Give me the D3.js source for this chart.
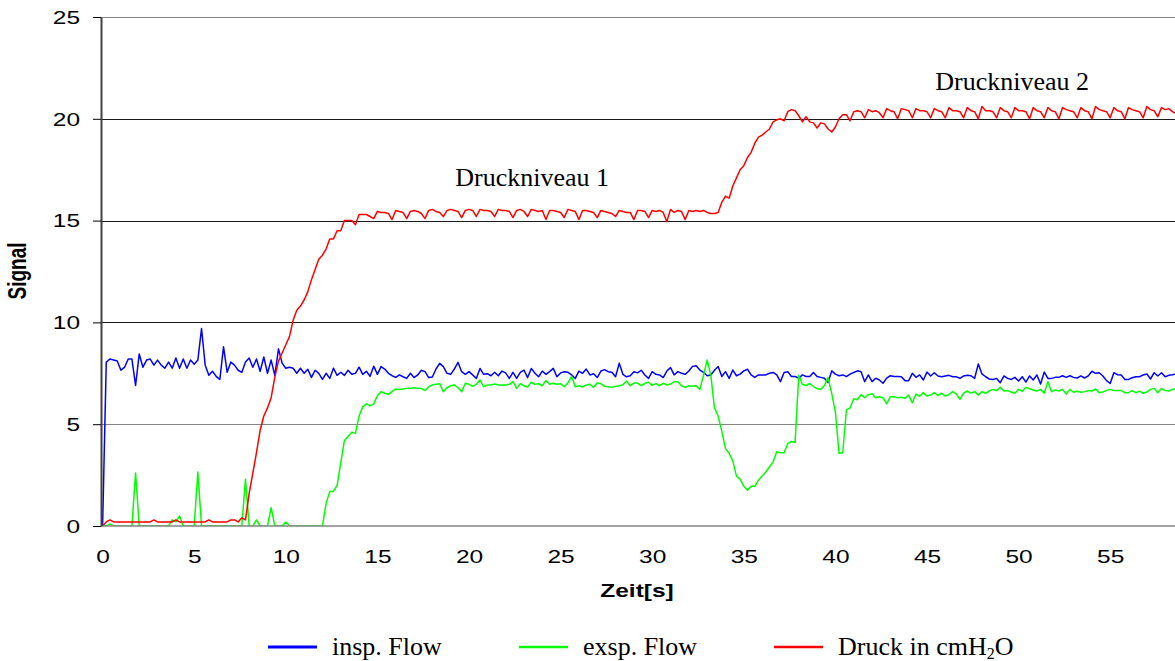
<!DOCTYPE html>
<html>
<head>
<meta charset="utf-8">
<script src="https://cdn.jsdelivr.net/npm/d3@7"></script>
<style>
  body { margin: 0; background: #fff; }
  svg { display: block; }
</style>
</head>
<body>
<svg class="chart" width="1175" height="661"></svg>
<script>
// sample step of the recording, seconds
var dt = 0.2

var xTicks = [0, 5, 10, 15, 20, 25, 30, 35, 40, 45, 50, 55]
var yTicks = [0, 5, 10, 15, 20, 25]

// insp. Flow (blue)
var inspFlow = [
  0,8.05,8.2,8.15,8.1,7.65,7.8,8.2,8.2,6.9,
  8.45,7.8,8.15,8.2,7.9,8.15,7.9,7.75,8.05,7.75,
  8.25,7.75,8.2,7.75,8.15,7.95,8.15,9.7,7.9,7.4,
  7.6,7.35,7.2,8.8,7.55,8.05,7.9,7.65,7.55,8.05,
  8.25,7.8,8.2,7.6,8.3,7.5,8.15,7.4,8.7,8.0,
  7.75,7.8,7.75,7.5,7.75,7.5,7.7,7.3,7.65,7.5,
  7.2,7.5,7.25,7.75,7.4,7.55,7.4,7.65,7.45,7.5,
  7.8,7.45,7.6,7.35,7.85,7.45,
  7.83,7.71,7.5,7.38,7.3,7.42,7.33,7.25,7.5,7.29,
  7.42,7.65,7.58,7.29,7.32,7.71,7.99,7.83,7.5,7.45,
  7.71,8.04,7.58,7.45,7.58,7.42,7.25,7.74,7.45,7.48,
  7.38,7.55,7.38,7.61,7.52,7.25,7.55,7.25,7.55,7.66,
  7.29,7.74,7.5,7.33,7.61,7.45,7.58,7.74,7.33,7.52,
  7.58,7.55,7.42,7.25,7.61,7.5,7.71,7.42,7.48,7.29,
  7.61,7.68,7.58,7.55,7.33,7.99,7.45,7.33,7.38,7.58,
  7.52,7.65,7.42,7.25,7.58,7.45,7.42,7.29,7.61,7.78,
  7.42,7.58,7.5,7.45,7.61,7.84,7.87,7.66,7.55,7.38,
  7.42,7.65,7.83,
  7.34,7.58,7.25,7.66,7.38,7.46,7.62,7.7,7.42,7.3,
  7.42,7.42,7.42,7.5,7.54,7.42,7.09,7.54,7.58,7.34,
  7.34,7.26,7.42,7.34,7.34,7.54,7.34,7.3,7.26,7.05,
  7.62,7.46,7.38,7.42,7.34,7.46,7.54,7.62,7.58,7.09,
  7.42,7.09,7.26,7.17,7.01,7.26,7.38,7.34,7.34,
  7.33,7.14,7.14,7.5,7.3,7.42,7.17,7.56,7.37,7.53,
  7.37,7.33,7.37,7.4,7.33,7.33,7.25,7.37,7.4,7.38,
  7.25,7.96,7.47,7.33,7.22,7.2,7.25,7.04,7.37,7.25,
  7.2,7.3,7.12,7.33,7.07,7.37,7.17,7.42,6.97,7.56,
  7.25,7.25,7.3,7.3,7.38,7.3,7.38,7.3,7.27,7.37,
  7.27,7.37,7.6,7.5,7.53,7.37,7.14,7.0,7.53,7.43,
  7.42,7.2,7.2,7.28,7.33,7.33,7.42,7.47,7.22,7.53,
  7.37,7.53,7.33,7.4,7.43,7.47
]

// exsp. Flow (green)
var exspFlow = [
  0,0,0.1,0,0,0,0,0,0,2.6,
  0,0,0,0,0,0,0,0,0,0.3,
  0.2,0.5,0,0,0,0,2.65,0,0,0,
  0,0,0,0,0,0,0,0,0,2.3,
  0,0,0.3,0,0,0,0.9,0,0,0,
  0.2,0,0,0,0,0,0,0,0,0,
  0,1.1,1.7,1.7,2.0,3.1,4.2,4.4,4.6,4.55,
  5.4,5.85,6.0,5.9,6.0,6.4,
  6.6,6.52,6.47,6.6,6.73,6.7,6.73,6.76,6.76,6.79,
  6.76,6.76,6.65,6.84,6.93,6.96,6.99,6.6,6.79,6.89,
  6.93,6.79,6.6,7.01,6.96,6.86,6.96,7.17,6.84,6.93,
  6.93,6.97,6.93,6.93,6.93,6.96,7.09,6.76,6.99,6.89,
  6.83,7.06,6.96,6.99,6.89,7.15,6.96,7.01,6.96,6.99,
  6.84,7.02,7.35,6.84,6.89,6.83,6.93,6.96,6.81,7.02,
  6.99,6.86,6.84,6.81,6.86,6.89,6.94,7.12,6.89,7.02,
  7.02,6.89,7.01,7.06,6.91,6.99,6.89,7.01,6.93,6.97,
  7.09,7.09,6.89,6.81,6.89,6.86,6.89,
  6.7,7.4,8.15,7.4,5.8,5.4,
  4.65,3.8,3.57,3.2,2.45,2.3,1.95,1.75,1.95,1.95,
  2.25,2.45,2.65,2.9,3.15,3.65,3.6,3.6,4.05,4.15,
  4.1,7.4,6.95,6.9,7.0,6.85,6.75,6.7,6.9,7.3,
  6.5,5.6,3.57,3.6,5.7,5.8,6.25,6.2,6.45,6.3,
  6.45,6.5,6.3,6.35,6.3,6.0,6.35,6.35,6.3,
  6.32,6.27,6.43,6.05,6.48,6.37,6.55,6.38,6.43,6.55,
  6.41,6.52,6.38,6.46,6.6,6.48,6.22,6.52,6.63,6.53,
  6.6,6.43,6.6,6.52,6.63,6.71,6.65,6.81,6.63,6.65,
  6.58,6.52,6.71,6.62,6.81,6.74,6.68,6.63,6.71,6.52,
  7.09,6.6,6.68,6.63,6.71,6.48,6.71,6.57,6.62,6.57,
  6.6,6.65,6.63,6.73,6.55,6.58,6.66,6.71,6.65,6.65,
  6.65,6.55,6.55,6.65,6.55,6.62,6.52,6.58,6.71,6.76,
  6.55,6.76,6.65,6.63,6.71,6.76
]

// Druck in cmH2O (red)
var druck = [
  0,0.2,0.3,0.2,0.2,0.2,0.2,0.2,0.2,0.2,
  0.2,0.2,0.2,0.2,0.3,0.2,0.2,0.2,0.2,0.2,
  0.3,0.2,0.2,0.2,0.2,0.2,0.2,0.2,0.2,0.3,
  0.2,0.2,0.2,0.2,0.2,0.3,0.3,0.2,0.4,0.3,
  1.6,2.6,3.6,4.7,5.4,5.8,6.3,7.3,8.1,8.5,
  8.9,9.3,10.1,10.6,10.8,11.1,11.5,12.1,12.6,13.1,
  13.3,13.6,14.1,14.1,14.5,14.5,15.0,15.0,15.0,14.8,
  15.3,15.3,15.3,15.2,15.1,15.45,15.4,15.4,15.35,15.05,
  15.5,15.45,15.4,15.1,15.45,15.5,15.45,15.35,15.1,15.5,
  15.55,15.45,15.4,15.2,15.5,15.55,15.5,15.45,15.15,15.5,
  15.55,15.5,15.2,15.55,15.5,15.5,15.45,15.2,15.55,15.5,
  15.5,15.45,15.15,15.5,15.55,15.45,15.2,15.55,15.5,15.45,
  15.5,15.05,15.5,15.5,15.45,15.4,15.15,15.55,15.5,15.45,
  15.05,15.5,15.5,15.45,15.4,15.15,15.5,15.45,15.4,15.35,
  15.2,15.5,15.45,15.4,15.4,15.05,15.5,15.5,15.45,15.15,
  15.5,15.45,15.5,15.4,14.95,15.55,15.4,15.5,15.45,15.05,
  15.5,15.45,15.5,15.45,15.5,15.4,15.35,15.35,15.4,15.9,
  16.2,16.1,16.7,17.1,17.5,17.7,18.1,18.35,18.8,19.1,
  19.2,19.35,19.5,19.85,19.95,20.0,19.9,20.35,20.45,20.4,
  20.15,19.85,20.1,19.85,19.8,19.55,19.8,19.75,19.5,19.35,
  19.6,20.0,20.2,20.2,19.9,20.35,20.4,20.35,20.05,20.45,
  20.35,20.4,20.3,20.05,20.5,20.4,20.35,20.0,20.5,20.45,
  20.4,20.05,20.5,20.4,20.4,20.35,20.05,20.5,20.4,20.35,
  20.05,20.55,20.4,20.4,20.35,20.05,20.55,20.4,20.35,20.0,
  20.6,20.4,20.4,20.35,20.05,20.55,20.4,20.35,20.05,20.55,
  20.4,20.4,20.35,20.0,20.55,20.4,20.35,20.05,20.55,20.4,
  20.35,20.0,20.55,20.45,20.4,20.35,20.05,20.55,20.4,20.35,
  20.0,20.6,20.45,20.4,20.35,20.05,20.55,20.4,20.35,20.0,
  20.55,20.45,20.4,20.35,20.05,20.6,20.45,20.4,20.1,20.55,
  20.45,20.5,20.35,20.25
]

var series = [
  { name: "insp. Flow", values: inspFlow, color: "#0000ff" },
  { name: "exsp. Flow", values: exspFlow, color: "#00ff00" },
  { name: "Druck in cmH", values: druck, color: "#ff0000" }
]

var labels = [
  { text: "Druckniveau 1", t: 19.25, v: 16.7 },
  { text: "Druckniveau 2", t: 45.45, v: 21.4 }
]

var svg = d3.select(".chart")
var margin = {top: 17, right: 0, bottom: 135, left: 101}
var width = +svg.attr("width")
var height = +svg.attr("height")
var bottom = height - margin.bottom
var stretch = 1.4   // the sans-serif texts of the original are drawn wide
var sans = "'Liberation Sans', Arial, sans-serif"
var serif = "'Liberation Serif', 'Times New Roman', serif"

var xscale = d3.scaleLinear()
    .domain([0, 58.6])
    .range([102.6, 102.6 + 58.6 * 18.32])
var yscale = d3.scaleLinear()
    .domain([0, 25])
    .range([bottom, margin.top])

// grid
svg.append("g")
  .selectAll("line")
  .data(yTicks.filter(d => d > 0))
  .enter().append("line")
    .attr("x1", margin.left)
    .attr("x2", width)
    .attr("y1", d => Math.round(yscale(d)) + 0.5)
    .attr("y2", d => Math.round(yscale(d)) + 0.5)
    .attr("stroke", d => (d == 5 || d == 25) ? "#858585" : "#1a1a1a")
    .attr("stroke-width", 1)

// series
svg.append("clipPath").attr("id", "plot")
  .append("rect")
    .attr("x", margin.left)
    .attr("y", margin.top - 5)
    .attr("width", width - margin.left)
    .attr("height", bottom - margin.top + 5)

var line = d3.line()
    .x((d, i) => xscale(i * dt))
    .y(d => yscale(d))

svg.append("g")
  .attr("clip-path", "url(#plot)")
  .selectAll("path")
  .data(series)
  .enter().append("path")
    .attr("d", d => line(d.values))
    .attr("fill", "none")
    .attr("stroke", d => d.color)
    .attr("stroke-width", 1.5)
    .attr("stroke-linejoin", "round")

// zero line sits on top of the traces, as in the original
svg.append("line")
  .attr("x1", margin.left)
  .attr("x2", width)
  .attr("y1", bottom)
  .attr("y2", bottom)
  .attr("stroke", "#858585")
  .attr("stroke-width", 1.5)

// y axis
var yAxis = d3.axisLeft(yscale).tickValues(yTicks).tickSize(8).tickSizeOuter(0)
var gy = svg.append("g")
  .attr("transform", "translate(" + margin.left + ",0)")
  .call(yAxis)
gy.select(".domain").attr("stroke", "#404040").attr("stroke-width", 2)
gy.selectAll(".tick line").attr("stroke", "#000")
gy.selectAll(".tick text")
  .attr("x", -15)
  .attr("dy", "0.36em")
  .attr("transform", "scale(" + stretch + ",1)")
  .style("font-family", sans)
  .style("font-size", "17.5px")
  .attr("fill", "#000")

// x axis labels only
var xAxis = d3.axisBottom(xscale).tickValues(xTicks).tickSize(0)
var gx = svg.append("g")
  .attr("transform", "translate(0," + bottom + ")")
  .call(xAxis)
gx.select(".domain").remove()
gx.selectAll(".tick text")
  .attr("y", 31)
  .attr("dy", "0.36em")
  .attr("transform", "scale(" + stretch + ",1)")
  .style("font-family", sans)
  .style("font-size", "17.5px")
  .attr("fill", "#000")

// axis titles
svg.append("text")
  .attr("transform", "translate(637,597) scale(" + stretch + ",1)")
  .attr("text-anchor", "middle")
  .style("font-family", sans)
  .style("font-size", "17.5px")
  .style("font-weight", "bold")
  .text("Zeit[s]")

svg.append("text")
  .attr("transform", "translate(26,271) rotate(-90) scale(1," + stretch + ")")
  .attr("text-anchor", "middle")
  .style("font-family", sans)
  .style("font-size", "19px")
  .style("font-weight", "bold")
  .text("Signal")

// annotations
svg.selectAll(".note")
  .data(labels)
  .enter().append("text")
    .attr("class", "note")
    .attr("x", d => xscale(d.t))
    .attr("y", d => yscale(d.v))
    .style("font-family", serif)
    .style("font-size", "26px")
    .attr("fill", "#000")
    .text(d => d.text)

// legend
var legendX = [268, 519, 774]
var leg = svg.selectAll(".legend")
  .data(series)
  .enter().append("g")
    .attr("class", "legend")
    .attr("transform", (d, i) => "translate(" + legendX[i] + ",647)")

leg.append("line")
  .attr("x1", 0)
  .attr("x2", 49)
  .attr("stroke", d => d.color)
  .attr("stroke-width", (d, i) => i == 0 ? 3 : 2.5)

var legText = leg.append("text")
  .attr("x", 64)
  .attr("y", 8)
  .style("font-family", serif)
  .style("font-size", "26px")
  .attr("fill", "#000")
  .text(d => d.name)

legText.filter((d, i) => i == 2)
  .append("tspan")
  .attr("dy", 4)
  .style("font-size", "16px")
  .text("2")
legText.filter((d, i) => i == 2)
  .append("tspan")
  .attr("dy", -4)
  .text("O")
</script>
</body>
</html>
